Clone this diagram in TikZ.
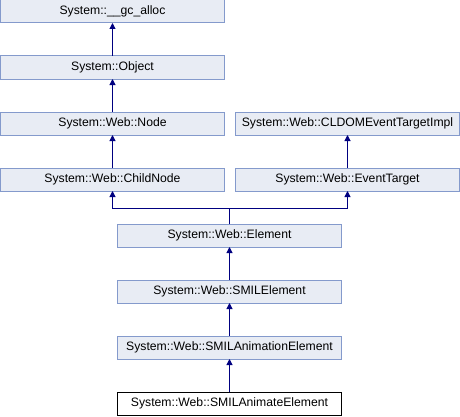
\documentclass[tikz,border=0pt]{standalone}
\usepackage{fontspec}
\setmainfont{Liberation Sans}
\usetikzlibrary{arrows.meta,calc}
\definecolor{boxfill}{RGB}{232,236,244}
\definecolor{boxdraw}{RGB}{132,154,204}
\definecolor{edgecol}{RGB}{0,0,128}
\tikzset{
  cls/.style={draw=boxdraw, fill=boxfill, line width=1pt, minimum width=224pt, minimum height=23pt, inner sep=0pt, outer sep=0pt, font=\fontsize{12.2}{14}\selectfont},
  cur/.style={cls, draw=black, fill=white},
  inh/.style={draw=edgecol, line width=1pt, -{Triangle[length=6pt,width=6pt]}}
}
\begin{document}
\begin{tikzpicture}[x=1pt,y=1pt]
\useasboundingbox (0,0) rectangle (460,416);
\node[cls] (gc) at (112.5,404.5) {System::\_\_gc\_alloc};
\node[cls] (obj) at (112.5,348.5) {System::Object};
\node[cls] (node) at (112.5,292.5) {System::Web::Node};
\node[cls] (child) at (112.5,236.5) {System::Web::ChildNode};
\node[cls] (cldom) at (347.5,292.5) {System::Web::CLDOMEventTargetImpl};
\node[cls] (et) at (347.5,236.5) {System::Web::EventTarget};
\node[cls] (elem) at (229.5,180.5) {System::Web::Element};
\node[cls] (smil) at (229.5,124.5) {System::Web::SMILElement};
\node[cls] (anim) at (229.5,68.5) {System::Web::SMILAnimationElement};
\node[cur] (animate) at (229.5,12.5) {System::Web::SMILAnimateElement};
\draw[inh] (obj.north) -- (gc.south);
\draw[inh] (node.north) -- (obj.south);
\draw[inh] (child.north) -- (node.south);
\draw[inh] (et.north) -- (cldom.south);
\coordinate (j) at ($(elem.north)+(0,16)$);
\draw[inh] (elem.north) -- (j) -| (child.south);
\draw[inh] (elem.north) -- (j) -| (et.south);
\draw[inh] (smil.north) -- (elem.south);
\draw[inh] (anim.north) -- (smil.south);
\draw[inh] (animate.north) -- (anim.south);
\end{tikzpicture}
\end{document}
